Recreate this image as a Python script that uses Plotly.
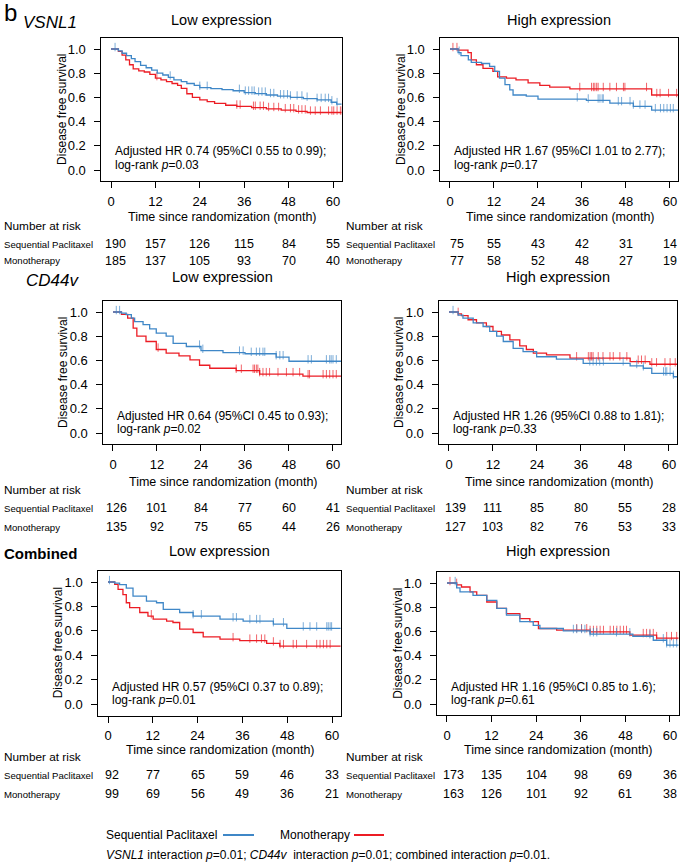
import numpy as np
import plotly.graph_objects as go

W, H = 685, 863
FONT = "Liberation Sans, Arial, sans-serif"
BLUE = "#3F87C7"
RED = "#EC1C24"

# ---------------- data ----------------
month_ticks = [0, 12, 24, 36, 48, 60]
surv_ticks = [0.0, 0.2, 0.4, 0.6, 0.8, 1.0]
series_names = ["Sequential Paclitaxel", "Monotherapy"]
group_names = ["VSNL1", "CD44v", "Combined"]
expr_names = ["Low expression", "High expression"]

# VSNL1 low
vl_seq_t = [0, 2.0, 3.0, 4.2, 5.5, 6.5, 8.0, 9.5, 11.0, 12.5, 14.0, 15.5, 17.0, 19.0, 20.5, 22.5, 24.0, 27.0, 30.0, 33.0, 36.0, 39.0, 42.0, 45.0, 48.5, 52.0, 55.7, 59.5, 61.0, 63.0]
vl_seq_s = [1.0, 0.985, 0.965, 0.945, 0.92, 0.895, 0.865, 0.845, 0.825, 0.80, 0.785, 0.765, 0.745, 0.73, 0.715, 0.70, 0.68, 0.672, 0.665, 0.655, 0.64, 0.632, 0.62, 0.61, 0.60, 0.59, 0.58, 0.56, 0.545, 0.545]
vl_seq_c = [1.1, 16.0, 24.0, 26.0, 34.7, 36.3, 37.2, 38.1, 38.7, 39.9, 40.8, 41.7, 43.1, 44.0, 45.8, 46.7, 47.7, 48.5, 50.3, 51.6, 53.0, 55.7, 56.8, 57.9, 58.8, 59.7, 61.1]
vl_mono_t = [0, 2.0, 3.0, 4.0, 5.0, 6.0, 7.5, 9.0, 10.5, 12.0, 13.5, 15.0, 16.5, 18.0, 19.0, 20.5, 22.0, 24.0, 26.0, 28.0, 31.0, 34.0, 38.0, 42.0, 46.0, 50.0, 53.0, 63.0]
vl_mono_s = [1.0, 0.98, 0.95, 0.91, 0.87, 0.835, 0.82, 0.81, 0.79, 0.76, 0.745, 0.73, 0.715, 0.70, 0.675, 0.63, 0.60, 0.58, 0.565, 0.55, 0.535, 0.525, 0.515, 0.505, 0.495, 0.485, 0.475, 0.475]
vl_mono_c = [12.4, 34.0, 34.9, 38.5, 39.0, 40.3, 41.2, 42.6, 44.0, 45.3, 47.1, 48.5, 49.4, 50.7, 51.6, 52.5, 53.9, 55.2, 56.6, 58.8, 59.7, 60.2, 61.1, 62.0, 62.4]

# VSNL1 high
vh_seq_t = [0, 2.2, 3.0, 5.0, 5.8, 8.6, 10.8, 12.2, 13.5, 15.0, 16.3, 17.2, 20.8, 24.0, 37.2, 43.6, 50.0, 55.0, 63.0]
vh_seq_s = [1.0, 0.97, 0.945, 0.91, 0.89, 0.88, 0.856, 0.815, 0.76, 0.705, 0.663, 0.62, 0.61, 0.585, 0.575, 0.553, 0.525, 0.495, 0.495]
vh_seq_c = [2.5, 34.7, 37.7, 40.4, 40.9, 41.5, 41.8, 45.9, 46.8, 49.1, 50.0, 51.8, 53.2, 56.0, 57.4, 58.3, 59.2, 60.1, 60.9]
vh_mono_t = [0, 2.2, 4.9, 5.8, 7.2, 9.0, 11.7, 13.0, 15.4, 18.0, 21.3, 24.5, 27.2, 32.7, 55.0, 63.0]
vh_mono_s = [1.0, 0.99, 0.97, 0.91, 0.87, 0.84, 0.815, 0.77, 0.76, 0.745, 0.72, 0.70, 0.685, 0.67, 0.62, 0.62]
vh_mono_c = [0.8, 1.9, 35.4, 38.6, 39.1, 39.5, 40.0, 40.4, 41.8, 43.6, 45.4, 47.3, 47.7, 53.6, 56.4, 57.3, 59.6, 61.8]

# CD44v low
cl_seq_t = [0, 2.3, 3.6, 5.0, 5.9, 8.2, 10.0, 11.8, 14.5, 16.4, 20.0, 24.0, 30.0, 36.0, 44.5, 48.0, 63.0]
cl_seq_s = [1.0, 0.99, 0.978, 0.95, 0.92, 0.895, 0.86, 0.825, 0.80, 0.74, 0.715, 0.68, 0.665, 0.655, 0.627, 0.593, 0.593]
cl_seq_c = [0.9, 1.8, 23.6, 24.5, 34.5, 35.5, 37.7, 39.1, 40.0, 40.9, 41.4, 44.5, 45.5, 46.4, 53.2, 54.1, 58.2, 59.1, 59.5, 60.0, 60.9]
cl_mono_t = [0, 2.3, 4.0, 5.5, 6.5, 9.0, 11.8, 14.5, 18.0, 21.0, 23.6, 26.4, 33.6, 40.0, 51.8, 63.0]
cl_mono_s = [1.0, 0.98, 0.95, 0.867, 0.80, 0.756, 0.69, 0.66, 0.637, 0.605, 0.56, 0.535, 0.515, 0.487, 0.47, 0.47]
cl_mono_c = [12.3, 33.6, 35.0, 38.2, 38.6, 39.1, 39.5, 40.0, 40.9, 41.8, 42.7, 45.0, 47.3, 49.1, 50.9, 53.2, 53.6, 57.3, 58.2, 59.1, 60.0, 60.9]

# CD44v high
ch_seq_t = [0, 2.5, 3.8, 6.6, 9.3, 11.1, 13.0, 14.8, 17.5, 20.2, 23.9, 29.3, 36.6, 49.4, 53.0, 55.3, 61.2, 63.0]
ch_seq_s = [1.0, 0.975, 0.95, 0.91, 0.88, 0.84, 0.80, 0.756, 0.70, 0.673, 0.63, 0.61, 0.576, 0.554, 0.535, 0.493, 0.465, 0.465]
ch_seq_c = [1.1, 38.4, 39.3, 40.2, 41.1, 42.1, 47.5, 51.2, 53.0, 58.5, 59.0, 59.4, 60.3, 61.2]
ch_mono_t = [0, 2.5, 3.4, 5.2, 7.5, 10.2, 12.0, 14.3, 16.6, 19.3, 21.1, 23.0, 26.6, 33.0, 49.4, 54.8, 63.0]
ch_mono_s = [1.0, 0.985, 0.97, 0.936, 0.91, 0.88, 0.84, 0.81, 0.77, 0.72, 0.69, 0.66, 0.645, 0.618, 0.59, 0.568, 0.565]
ch_mono_c = [2.5, 34.8, 38.0, 38.5, 38.9, 39.3, 40.7, 42.0, 43.9, 44.8, 46.6, 48.5, 51.6, 52.5, 53.5, 55.3, 56.6, 58.9, 60.3, 61.7]

# Combined low
ml_seq_t = [0, 1.8, 3.1, 4.9, 6.7, 10.3, 13.0, 14.8, 19.2, 22.8, 30.0, 36.2, 44.3, 47.9, 63.0]
ml_seq_s = [1.0, 0.99, 0.978, 0.95, 0.884, 0.843, 0.83, 0.776, 0.75, 0.72, 0.695, 0.68, 0.654, 0.62, 0.62]
ml_seq_c = [0.4, 22.8, 25.0, 33.5, 34.4, 38.0, 39.8, 40.7, 44.3, 47.0, 52.3, 54.1, 55.9, 58.6, 59.0, 59.5, 59.9]
ml_mono_t = [0, 1.8, 2.7, 4.0, 4.9, 5.8, 8.5, 10.7, 12.1, 15.7, 17.4, 19.2, 22.8, 25.5, 30.0, 35.3, 42.5, 46.0, 63.0]
ml_mono_s = [1.0, 0.98, 0.94, 0.897, 0.83, 0.79, 0.75, 0.72, 0.695, 0.68, 0.668, 0.614, 0.586, 0.55, 0.532, 0.52, 0.497, 0.475, 0.475]
ml_mono_c = [11.6, 33.5, 38.0, 39.8, 41.1, 42.0, 44.3, 46.1, 47.0, 49.6, 50.5, 53.2, 55.9, 56.8, 57.7, 58.6, 59.5]

# Combined high
mh_seq_t = [0, 2.6, 3.5, 7.0, 10.7, 13.4, 16.0, 19.6, 23.2, 25.0, 31.3, 38.5, 50.0, 55.5, 59.1, 63.0]
mh_seq_s = [1.0, 0.96, 0.926, 0.898, 0.857, 0.79, 0.734, 0.68, 0.65, 0.624, 0.604, 0.577, 0.56, 0.527, 0.486, 0.475]
mh_seq_c = [2.2, 34.0, 34.9, 36.2, 37.1, 38.5, 39.4, 40.3, 45.6, 49.2, 54.6, 58.2, 59.1, 60.0, 60.9, 61.8]
mh_mono_t = [0, 2.6, 3.9, 6.2, 8.0, 10.7, 13.4, 16.0, 19.6, 22.3, 24.6, 29.5, 38.5, 49.2, 56.4, 63.0]
mh_mono_s = [1.0, 0.985, 0.967, 0.926, 0.898, 0.843, 0.79, 0.747, 0.706, 0.68, 0.624, 0.61, 0.596, 0.57, 0.545, 0.545]
mh_mono_c = [0.8, 2.6, 34.9, 36.2, 37.6, 38.5, 39.4, 40.3, 41.2, 42.1, 43.9, 44.8, 45.7, 46.6, 47.5, 48.3, 52.8, 53.7, 54.6, 55.5, 56.4, 59.1, 60.4, 61.8]

# numbers at risk
vl_seq_risk = [190, 157, 126, 115, 84, 55]
vl_mono_risk = [185, 137, 105, 93, 70, 40]
vh_seq_risk = [75, 55, 43, 42, 31, 14]
vh_mono_risk = [77, 58, 52, 48, 27, 19]
cl_seq_risk = [126, 101, 84, 77, 60, 41]
cl_mono_risk = [135, 92, 75, 65, 44, 26]
ch_seq_risk = [139, 111, 85, 80, 55, 28]
ch_mono_risk = [127, 103, 82, 76, 53, 33]
ml_seq_risk = [92, 77, 65, 59, 46, 33]
ml_mono_risk = [99, 69, 56, 49, 36, 21]
mh_seq_risk = [173, 135, 104, 98, 69, 36]
mh_mono_risk = [163, 126, 101, 92, 61, 38]

hr_texts = [
    ("Adjusted HR 0.74 (95%CI 0.55 to 0.99);", "0.03"),
    ("Adjusted HR 1.67 (95%CI 1.01 to 2.77);", "0.17"),
    ("Adjusted HR 0.64 (95%CI 0.45 to 0.93);", "0.02"),
    ("Adjusted HR 1.26 (95%CI 0.88 to 1.81);", "0.33"),
    ("Adjusted HR 0.57 (95%CI 0.37 to 0.89);", "0.01"),
    ("Adjusted HR 1.16 (95%CI 0.85 to 1.6);", "0.61"),
]

# ---------------- layout (pixels) ----------------
# (x of month 0, x of month 60, y of surv 1.0, y of surv 0.0)
panel_px = [
    (111, 333, 49, 170),
    (450, 670, 49, 170),
    (113, 333, 312, 433),
    (449, 669, 312, 433),
    (108, 332, 582, 704),
    (447, 670, 583, 704),
]
curves = [
    (vl_seq_t, vl_seq_s, vl_seq_c, vl_mono_t, vl_mono_s, vl_mono_c, vl_seq_risk, vl_mono_risk),
    (vh_seq_t, vh_seq_s, vh_seq_c, vh_mono_t, vh_mono_s, vh_mono_c, vh_seq_risk, vh_mono_risk),
    (cl_seq_t, cl_seq_s, cl_seq_c, cl_mono_t, cl_mono_s, cl_mono_c, cl_seq_risk, cl_mono_risk),
    (ch_seq_t, ch_seq_s, ch_seq_c, ch_mono_t, ch_mono_s, ch_mono_c, ch_seq_risk, ch_mono_risk),
    (ml_seq_t, ml_seq_s, ml_seq_c, ml_mono_t, ml_mono_s, ml_mono_c, ml_seq_risk, ml_mono_risk),
    (mh_seq_t, mh_seq_s, mh_seq_c, mh_mono_t, mh_mono_s, mh_mono_c, mh_seq_risk, mh_mono_risk),
]
row_title_y = [20, 277, 551]
xtitle_y = [217, 482, 750]
nar_y = [226, 490, 757]
seq_y = [244, 508, 775]
mono_y = [261, 527, 794]
hr_y = [(151, 165), (416, 429), (687, 700)]
first_col_shift = [4, 7]  # px shift of first at-risk column (left, right panels)

XR = [-2.6, 62.3]
YR = [-0.095, 1.09]


def fx(p):
    return p / W


def fy(p):
    return 1 - p / H


def step_at(t, s, c):
    t = np.asarray(t)
    s = np.asarray(s)
    idx = np.searchsorted(t, np.asarray(c), side="right") - 1
    return s[idx]


fig = go.Figure()
annotations = []
shapes = []

for i, (pp, cv) in enumerate(zip(panel_px, curves)):
    x0, x60, y1, y0 = pp
    ppm = (x60 - x0) / 60.0
    ppu = (y0 - y1)
    left = x0 + XR[0] * ppm
    right = x0 + XR[1] * ppm
    top = y0 - YR[1] * ppu
    bottom = y0 - YR[0] * ppu
    n = "" if i == 0 else str(i + 1)
    xa, ya = "x" + n, "y" + n
    fig.layout["xaxis" + n] = dict(
        domain=[fx(left), fx(right)], range=XR, anchor=ya,
        tickvals=month_ticks, ticktext=[str(v) for v in month_ticks],
        showline=True, mirror=True, linecolor="black", linewidth=1,
        ticks="outside", ticklen=6, tickcolor="black", tickwidth=1,
        showgrid=False, zeroline=False, ticklabelstandoff=2,
        tickfont=dict(family=FONT, size=13, color="black"),
    )
    fig.layout["yaxis" + n] = dict(
        domain=[fy(bottom), fy(top)], range=YR, anchor=xa,
        tickvals=surv_ticks, ticktext=["%.1f" % v for v in surv_ticks],
        showline=True, mirror=True, linecolor="black", linewidth=1,
        ticks="outside", ticklen=6, tickcolor="black", tickwidth=1,
        showgrid=False, zeroline=False, ticklabelstandoff=6,
        tickfont=dict(family=FONT, size=13, color="black"),
    )
    st, ss, sc, mt, ms, mc, srisk, mrisk = cv
    for (t, s, c, col) in [(mt, ms, mc, RED), (st, ss, sc, BLUE)]:
        fig.add_trace(go.Scatter(x=t, y=s, mode="lines", line=dict(color=col, width=1.3, shape="hv"),
                                 xaxis=xa, yaxis=ya, showlegend=False, hoverinfo="skip"))
        cy = step_at(t, s, c) + 0.016
        fig.add_trace(go.Scatter(x=c, y=cy, mode="markers", opacity=0.85,
                                 marker=dict(symbol="line-ns", size=6, line=dict(color=col, width=0.8)),
                                 xaxis=xa, yaxis=ya, showlegend=False, hoverinfo="skip"))
    r = i // 2
    side = i % 2
    # title
    annotations.append(dict(text=expr_names[side], x=fx((left + right) / 2), y=fy(row_title_y[r]),
                            xref="paper", yref="paper", showarrow=False, xanchor="center", yanchor="middle",
                            font=dict(family=FONT, size=14.5, color="black")))
    # y title
    annotations.append(dict(text="Disease free survival", x=fx(left - 40), y=fy((y1 + y0) / 2),
                            xref="paper", yref="paper", showarrow=False, textangle=-90,
                            xanchor="center", yanchor="middle",
                            font=dict(family=FONT, size=12, color="black")))
    # x title
    annotations.append(dict(text="Time since randomization (month)", x=fx((x0 + x60) / 2), y=fy(xtitle_y[r]),
                            xref="paper", yref="paper", showarrow=False, xanchor="center", yanchor="middle",
                            font=dict(family=FONT, size=12.5, color="black")))
    # HR text
    hr, pv = hr_texts[i]
    annotations.append(dict(text=hr, x=fx(x0 + 2), y=fy(hr_y[r][0]), xref="paper", yref="paper",
                            showarrow=False, xanchor="left", yanchor="middle",
                            font=dict(family=FONT, size=12, color="black")))
    annotations.append(dict(text="log-rank <i>p</i>=" + pv, x=fx(x0 + 2), y=fy(hr_y[r][1]), xref="paper",
                            yref="paper", showarrow=False, xanchor="left", yanchor="middle",
                            font=dict(family=FONT, size=12, color="black")))
    # number at risk
    lab_x = 2 if side == 0 else 344
    annotations.append(dict(text="Number at risk", x=fx(lab_x), y=fy(nar_y[r]), xref="paper", yref="paper",
                            showarrow=False, xanchor="left", yanchor="middle",
                            font=dict(family=FONT, size=11.8, color="black")))
    for name, yy, risk in [(series_names[0], seq_y[r], srisk), (series_names[1], mono_y[r], mrisk)]:
        annotations.append(dict(text=name, x=fx(lab_x), y=fy(yy), xref="paper", yref="paper",
                                showarrow=False, xanchor="left", yanchor="middle",
                                font=dict(family=FONT, size=9.6, color="black")))
        for k, (mth, v) in enumerate(zip(month_ticks, risk)):
            annotations.append(dict(text=str(v), x=mth, y=fy(yy), xref=xa, yref="paper",
                                    xshift=first_col_shift[side] if k == 0 else 0,
                                    showarrow=False, xanchor="center", yanchor="middle",
                                    font=dict(family=FONT, size=12.5, color="black")))

# group labels
annotations.append(dict(text="b", x=fx(2), y=fy(13), xref="paper", yref="paper", showarrow=False,
                        xanchor="left", yanchor="middle", font=dict(family=FONT, size=24, color="black")))
annotations.append(dict(text="<i>" + group_names[0] + "</i>", x=fx(21), y=fy(23), xref="paper", yref="paper",
                        showarrow=False, xanchor="left", yanchor="middle",
                        font=dict(family=FONT, size=17, color="black")))
annotations.append(dict(text="<i>" + group_names[1] + "</i>", x=fx(24), y=fy(280), xref="paper", yref="paper",
                        showarrow=False, xanchor="left", yanchor="middle",
                        font=dict(family=FONT, size=17, color="black")))
annotations.append(dict(text="<b>" + group_names[2] + "</b>", x=fx(2), y=fy(553), xref="paper", yref="paper",
                        showarrow=False, xanchor="left", yanchor="middle",
                        font=dict(family=FONT, size=15, color="black")))

# bottom legend
annotations.append(dict(text=series_names[0], x=fx(104), y=fy(835), xref="paper", yref="paper",
                        showarrow=False, xanchor="left", yanchor="middle",
                        font=dict(family=FONT, size=12, color="black")))
annotations.append(dict(text=series_names[1], x=fx(278), y=fy(835), xref="paper", yref="paper",
                        showarrow=False, xanchor="left", yanchor="middle",
                        font=dict(family=FONT, size=12, color="black")))
annotations.append(dict(text="<i>VSNL1</i> interaction <i>p</i>=0.01; <i>CD44v</i>  interaction <i>p</i>=0.01; combined interaction <i>p</i>=0.01.",
                        x=fx(104), y=fy(855), xref="paper", yref="paper",
                        showarrow=False, xanchor="left", yanchor="middle",
                        font=dict(family=FONT, size=12, color="black")))
shapes.append(dict(type="line", xref="paper", yref="paper", x0=fx(223), x1=fx(254), y0=fy(835), y1=fy(835),
                   line=dict(color=BLUE, width=2)))
shapes.append(dict(type="line", xref="paper", yref="paper", x0=fx(354), x1=fx(384), y0=fy(835), y1=fy(835),
                   line=dict(color=RED, width=2)))

fig.update_layout(
    width=W, height=H, margin=dict(l=0, r=0, t=0, b=0),
    paper_bgcolor="white", plot_bgcolor="white",
    annotations=annotations, shapes=shapes, showlegend=False,
    font=dict(family=FONT, color="black"),
)
fig.write_html("out.html", config={"displayModeBar": False},
               post_script="document.body.style.margin='0px';document.body.style.overflow='hidden';")
